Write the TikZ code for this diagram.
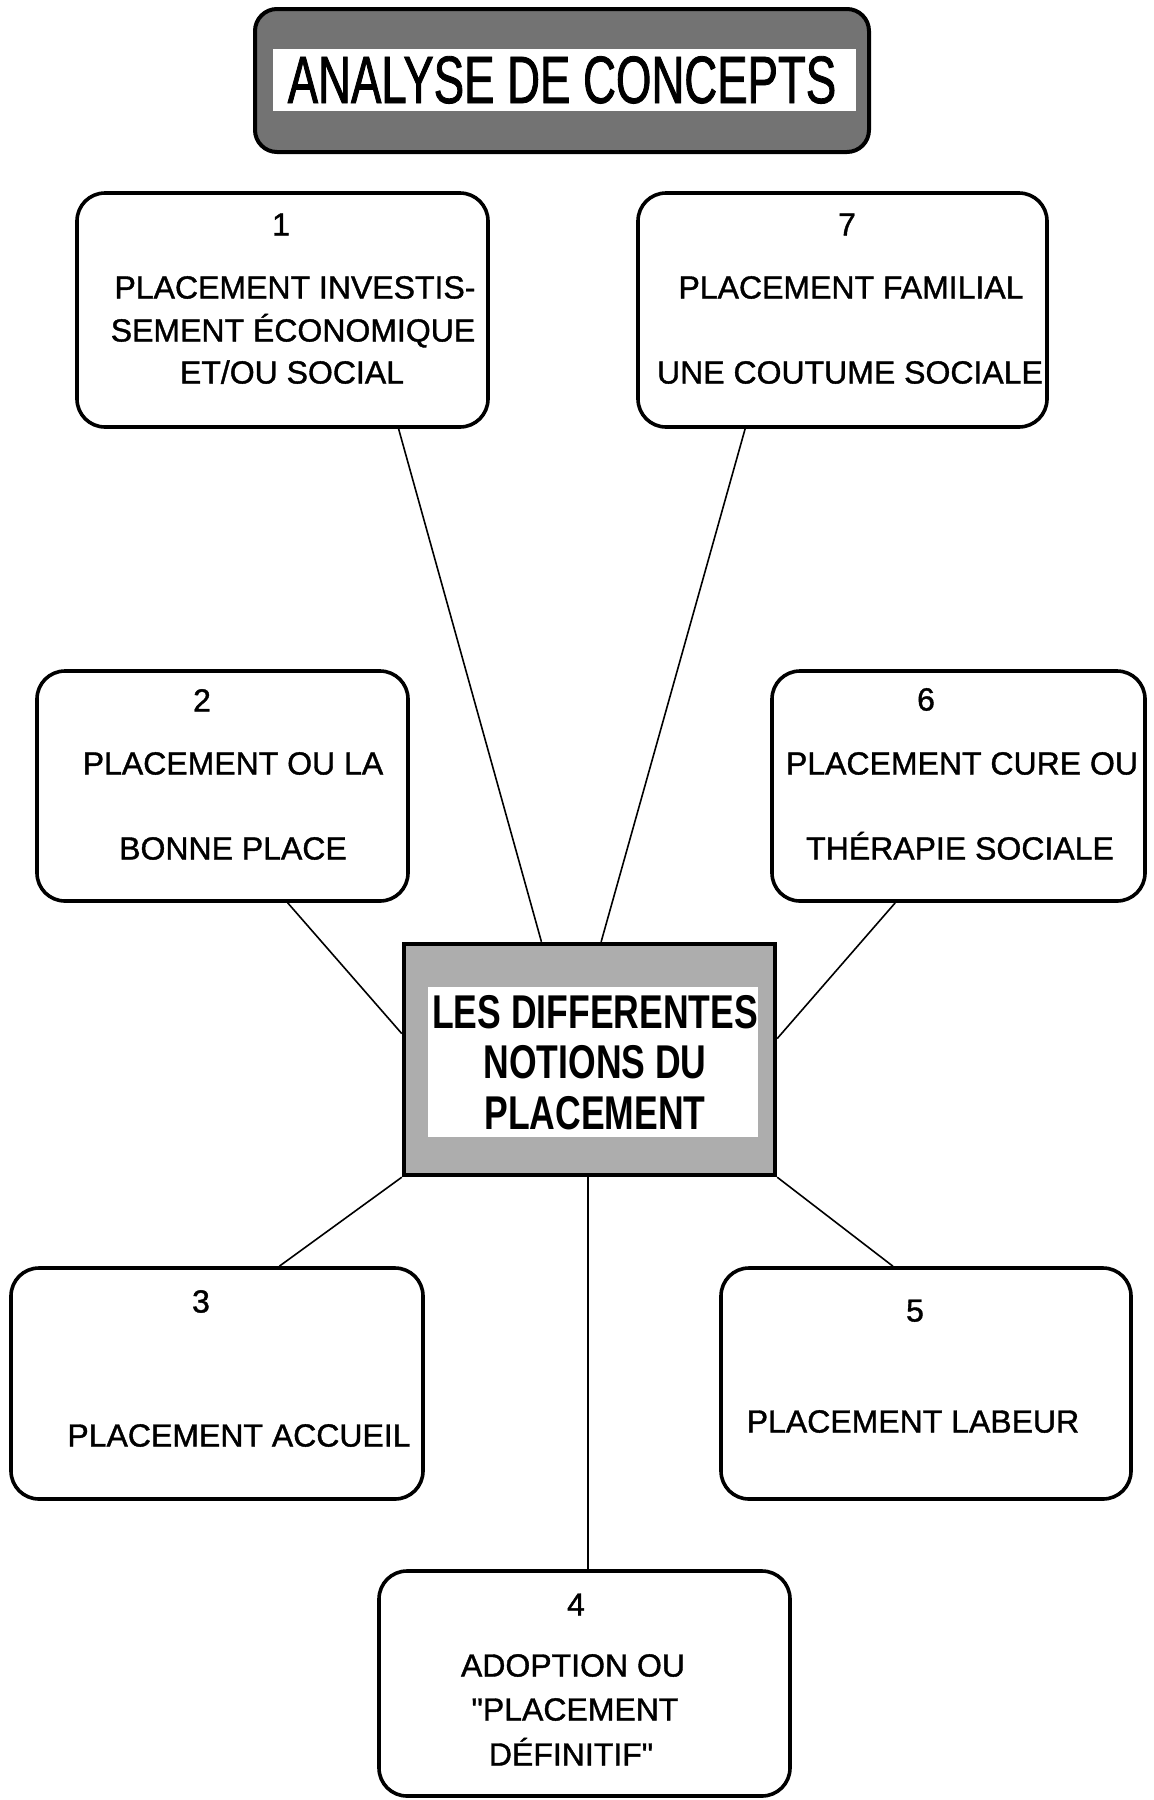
\documentclass[tikz,border=0pt]{standalone}
\usepackage{fontspec}
\setmainfont{Liberation Sans}
\newfontfamily\lblfont[FakeBold=1.2,Ligatures=TeXOff]{Liberation Sans}
\newfontfamily\titlefont[FakeStretch=0.68,FakeBold=1.2]{Liberation Sans}
\newfontfamily\midfont[FakeStretch=0.75]{Liberation Sans}
\usetikzlibrary{calc,fit}
\begin{document}
\begin{tikzpicture}[x=0.5pt,y=-0.5pt,
  box/.style={draw,line width=1.8pt,rounded corners=14pt,inner sep=0pt},
  lbl/.style={inner sep=0pt,text height=11.5pt,text depth=0pt,font=\lblfont\fontsize{16}{19}\selectfont},
  midlbl/.style={inner sep=0pt,text height=17pt,text depth=0pt,font=\midfont\bfseries\fontsize{23.7}{28}\selectfont},
  link/.style={line width=0.8pt}]
\useasboundingbox (0,0) rectangle (1153,1800);

% title
\node[draw,line width=2pt,fill=black!55,rounded corners=11pt,inner sep=0pt,fit={(255,9)(869,152)}] (title) {};
\node[fill=white,inner sep=0pt,fit={(273,49)(856,111)}] (titleband) {};
\node[inner sep=0pt,text height=24pt,text depth=0pt,font=\titlefont\fontsize{33.5}{40}\selectfont] (titletext) at (562,79) {ANALYSE DE CONCEPTS};

% boxes
\node[box,fit={(77,193)(488,427)}] (b1) {};
\node[box,fit={(638,193)(1047,427)}] (b7) {};
\node[box,fit={(37,671)(408,901)}] (b2) {};
\node[box,fit={(772,671)(1145,901)}] (b6) {};
\node[box,fit={(11,1268)(423,1499)}] (b3) {};
\node[box,fit={(721,1268)(1131,1499)}] (b5) {};
\node[box,fit={(379,1571)(790,1796)}] (b4) {};

% centre
\node[draw,line width=2.2pt,fill=black!32,inner sep=0pt,fit={(404,944)(775,1175)}] (c) {};
\node[fill=white,inner sep=0pt,fit={(428,987)(758,1137)}] (cband) {};
\node[midlbl] (c1) at (595,1011) {LES DIFFERENTES};
\node[midlbl] (c2) at (595,1061) {NOTIONS DU};
\node[midlbl] (c3) at (595,1112) {PLACEMENT};

% texts
\node[lbl] (n1) at (281,224) {1};
\node[lbl] (t1a) at (295,287) {PLACEMENT INVESTIS-};
\node[lbl] (t1b) at (293,330) {SEMENT ÉCONOMIQUE};
\node[lbl] (t1c) at (292,372) {ET/OU SOCIAL};

\node[lbl] (n7) at (847,224) {7};
\node[lbl] (t7a) at (851,287) {PLACEMENT FAMILIAL};
\node[lbl] (t7b) at (850,372) {UNE COUTUME SOCIALE};

\node[lbl] (n2) at (202,700) {2};
\node[lbl] (t2a) at (233,763) {PLACEMENT OU LA};
\node[lbl] (t2b) at (233,848) {BONNE PLACE};

\node[lbl] (n6) at (926,699) {6};
\node[lbl] (t6a) at (962,763) {PLACEMENT CURE OU};
\node[lbl] (t6b) at (960,848) {THÉRAPIE SOCIALE};

\node[lbl] (n3) at (201,1301) {3};
\node[lbl] (t3a) at (239,1435) {PLACEMENT ACCUEIL};

\node[lbl] (n5) at (915,1310) {5};
\node[lbl] (t5a) at (913,1421) {PLACEMENT LABEUR};

\node[lbl] (n4) at (576,1604) {4};
\node[lbl] (t4a) at (573,1665) {ADOPTION OU};
\node[lbl] (t4b) at (575,1709) {"PLACEMENT};
\node[lbl] (t4c) at (571,1754) {DÉFINITIF"};

% connectors
\draw[link] ($(b1.south west)!0.78!(b1.south east)$) -- ($(c.north west)!0.372!(c.north east)$);
\draw[link] ($(b7.south west)!0.264!(b7.south east)$) -- ($(c.north west)!0.531!(c.north east)$);
\draw[link] ($(b2.south west)!0.674!(b2.south east)$) -- ($(c.north west)!0.39!(c.south west)$);
\draw[link] ($(b6.south west)!0.332!(b6.south east)$) -- ($(c.north east)!0.411!(c.south east)$);
\draw[link] (c.south west) -- ($(b3.north west)!0.65!(b3.north east)$);
\draw[link] (c.south east) -- ($(b5.north west)!0.42!(b5.north east)$);
\coordinate (cb) at ($(c.south west)!0.496!(c.south east)$);
\draw[link] (cb) -- (cb |- b4.north);
\end{tikzpicture}
\end{document}
